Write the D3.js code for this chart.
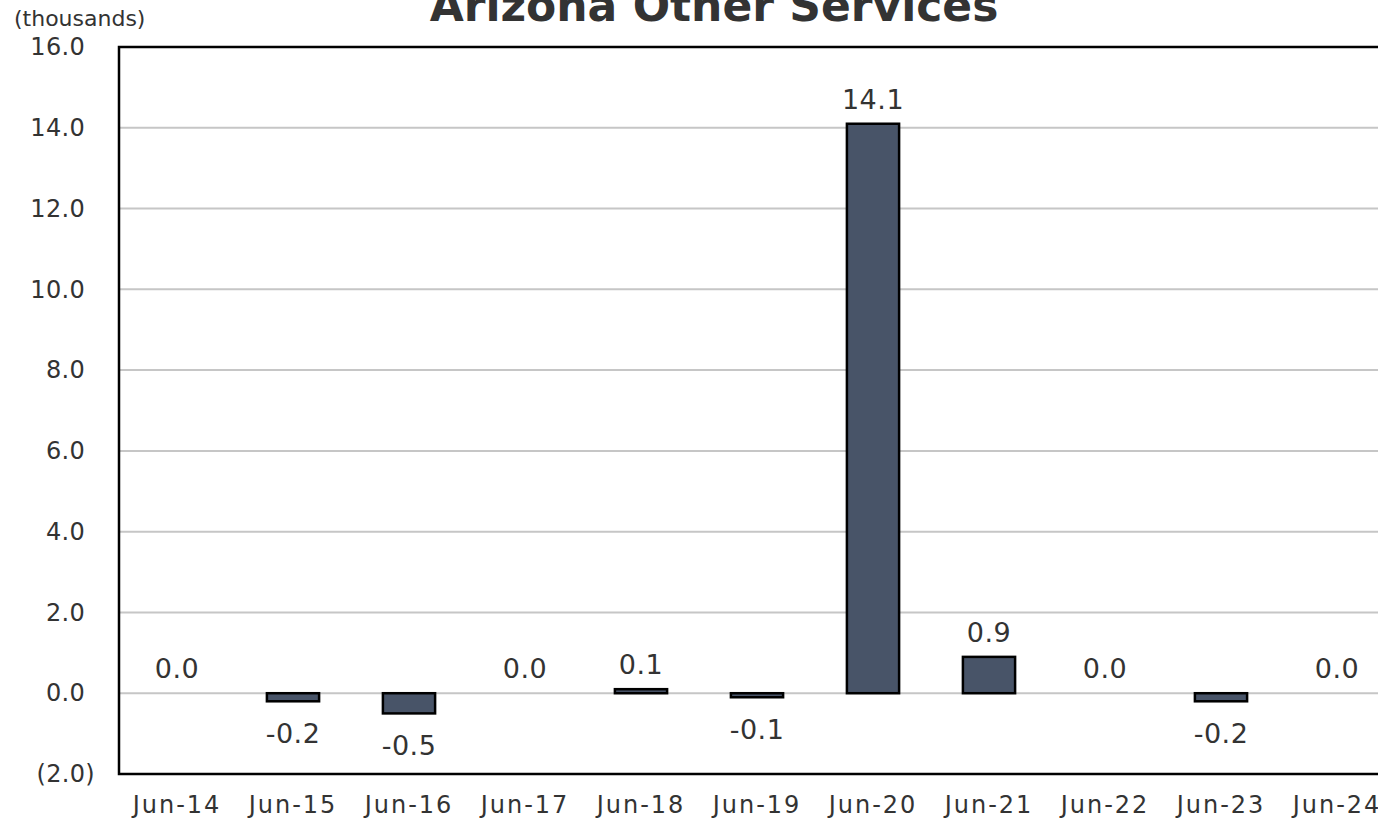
<!DOCTYPE html>
<html>
<head>
<meta charset="utf-8">
<script src="https://cdn.jsdelivr.net/npm/d3@7"></script>
<style>
  body { margin: 0; background: #fff; }
  text { font-family: "DejaVu Sans", Verdana, sans-serif; fill: #333; }
</style>
</head>
<body>
<div id="chart"></div>
<script>
// data
var months = ["Jun-14", "Jun-15", "Jun-16", "Jun-17", "Jun-18", "Jun-19", "Jun-20", "Jun-21", "Jun-22", "Jun-23", "Jun-24"];
var values = [0.0, -0.2, -0.5, 0.0, 0.1, -0.1, 14.1, 0.9, 0.0, -0.2, 0.0];
var yTicks = [-2, 0, 2, 4, 6, 8, 10, 12, 14, 16];

var width = 1378, height = 822;
var margin = {top: 47, right: -17, bottom: 48, left: 119};  // plot runs past the right edge

var svg = d3.select("#chart").append("svg")
    .attr("width", width)
    .attr("height", height);

var x = d3.scaleBand()
    .domain(months)
    .range([margin.left, width - margin.right])
    .paddingInner(0.55)
    .paddingOuter(0.275);

var y = d3.scaleLinear()
    .domain([-2, 16])
    .range([height - margin.bottom, margin.top]);

var fmt = d3.format(".1f");
// plain hyphen instead of d3's unicode minus
function valFmt(d) { return fmt(d).replace("\u2212", "-"); }
function yFmt(d) { return d < 0 ? "(" + fmt(-d) + ")" : fmt(d); }

// gridlines
svg.append("g")
  .selectAll("line")
  .data(yTicks)
  .enter().append("line")
    .attr("x1", margin.left)
    .attr("x2", width - margin.right)
    .attr("y1", function(d) { return y(d); })
    .attr("y2", function(d) { return y(d); })
    .attr("stroke", "#c6c6c6")
    .attr("stroke-width", 2);

// y axis labels
var yAxis = svg.append("g")
    .attr("transform", "translate(" + margin.left + ",0)")
    .call(d3.axisLeft(y).tickValues(yTicks).tickFormat(yFmt).tickSize(0).tickPadding(34));
yAxis.select(".domain").remove();
yAxis.selectAll("text")
    .attr("font-size", 24)
    .attr("letter-spacing", 0.3)
    .attr("font-family", "\"DejaVu Sans\", Verdana, sans-serif")
    .attr("fill", "#333")
    .attr("dx", function(d) { return d < 0 ? 10 : 0; });  // closing paren hangs past the numbers

// bars
svg.append("g")
  .selectAll("rect")
  .data(values)
  .enter().append("rect")
    .attr("x", function(d, i) { return x(months[i]); })
    .attr("y", function(d) { return y(Math.max(0, d)); })
    .attr("width", x.bandwidth())
    .attr("height", function(d) { return Math.abs(y(d) - y(0)); })
    .attr("fill", "#485468")
    .attr("stroke", function(d) { return d === 0 ? "none" : "#000"; })
    .attr("stroke-width", 2.5);

// value labels
svg.append("g")
  .selectAll("text")
  .data(values)
  .enter().append("text")
    .attr("x", function(d, i) { return x(months[i]) + x.bandwidth() / 2; })
    .attr("y", function(d) { return d < 0 ? y(d) + 42 : y(d) - 15; })
    .attr("text-anchor", "middle")
    .attr("font-size", 27)
    .attr("letter-spacing", 0.5)
    .attr("fill", "#3a3a3a")
    .text(valFmt);

// plot frame (left, top, bottom)
svg.append("path")
    .attr("d", "M" + (width + 5) + "," + y(16) + "H" + margin.left + "V" + y(-2) + "H" + (width + 5))
    .attr("fill", "none")
    .attr("stroke", "#000")
    .attr("stroke-width", 2.5);

// x axis labels
var xAxis = svg.append("g")
    .attr("transform", "translate(0," + y(-2) + ")")
    .call(d3.axisBottom(x).tickSize(0).tickPadding(22));
xAxis.select(".domain").remove();
xAxis.selectAll("text")
    .attr("font-size", 24)
    .attr("letter-spacing", 2)
    .attr("font-family", "\"DejaVu Sans\", Verdana, sans-serif")
    .attr("fill", "#333");

// units note
svg.append("text")
    .attr("x", 14)
    .attr("y", 26)
    .attr("font-size", 22)
    .attr("fill", "#333")
    .text("(thousands)");

// title, cropped at the top like the reference
svg.append("text")
    .attr("x", 714)
    .attr("y", 21)
    .attr("text-anchor", "middle")
    .attr("font-size", 44)
    .attr("font-weight", "bold")
    .attr("fill", "#2b2b2b")
    .text("Arizona Other Services");
</script>
</body>
</html>
